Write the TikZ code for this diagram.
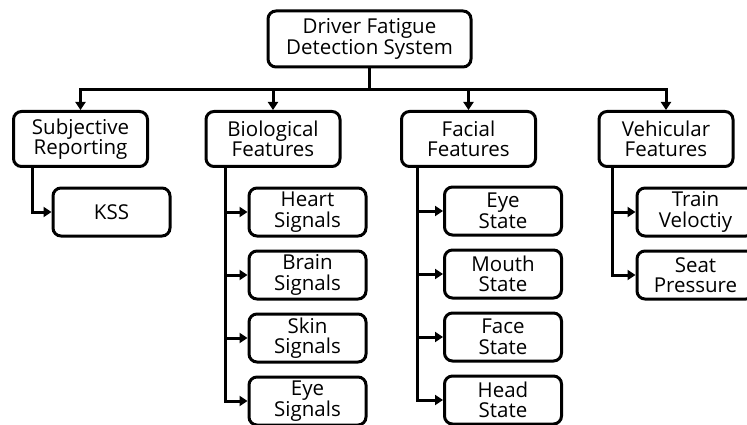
\documentclass[tikz,border=0pt]{standalone}
\usepackage{fontspec}
\setmainfont{Open Sans}
\usetikzlibrary{positioning, arrows.meta}
\tikzset{
    x=1pt, y=-1pt, % pixel coordinates, y downwards
    node distance=63pt, % vertical step between the leaf boxes
    box/.style={ % common look of all boxes
        draw,
        line width=3pt,
        rounded corners=8pt,
        align=center,
        inner sep=0pt,
        font=\fontsize{20.5}{20.5}\selectfont
    },
    rootbox/.style={box, minimum width=203pt, minimum height=56pt},
    groupbox/.style={box, minimum width=134pt, minimum height=55pt},
    leafbox/.style={box, minimum width=117pt, minimum height=48pt},
    link/.style={ % connectors with filled arrow heads
        draw,
        line width=3pt,
        -{Triangle[length=8pt,width=10pt]}
    }
}

\begin{document}
\begin{tikzpicture}
    \useasboundingbox (0,0) rectangle (747,425);

    \node[rootbox]  (root)  at (369.5,39)   {Driver Fatigue\\Detection System};

    \node[groupbox] (subj)  at (80.5,139)   {Subjective\\Reporting};
    \node[groupbox] (bio)   at (273,139)    {Biological\\Features};
    \node[groupbox] (face)  at (468.5,139)  {Facial\\Features};
    \node[groupbox] (veh)   at (666,139)    {Vehicular\\Features};

    \node[leafbox]  (kss)   at (111.5,212)  {KSS};

    \node[leafbox]  (heart) at (307.5,212)  {Heart\\Signals};
    \node[leafbox, below of=heart]  (brain) {Brain\\Signals};
    \node[leafbox, below of=brain]  (skin)  {Skin\\Signals};
    \node[leafbox, below of=skin]   (eyesig){Eye\\Signals};

    \node[leafbox]  (eyest) at (503,211)    {Eye\\State};
    \node[leafbox, below of=eyest]  (mouth) {Mouth\\State};
    \node[leafbox, below of=mouth]  (facest){Face\\State};
    \node[leafbox, below of=facest] (head)  {Head\\State};

    \node[leafbox]  (train) at (695.5,212)  {Train\\Veloctiy};
    \node[leafbox, below of=train]  (seat)  {Seat\\Pressure};

    % root to the four groups
    \foreach \g in {subj,bio,face,veh}
        \draw[link] (root.south) -- ++(0pt,-21pt) -| (\g.north);

    % groups to their leaves
    \draw[link] ([xshift=20pt]subj.south west) |- (kss.west);
    \foreach \c in {heart,brain,skin,eyesig}
        \draw[link] ([xshift=21pt]bio.south west) |- (\c.west);
    \foreach \c in {eyest,mouth,facest,head}
        \draw[link] ([xshift=17pt]face.south west) |- (\c.west);
    \foreach \c in {train,seat}
        \draw[link] ([xshift=15pt]veh.south west) |- (\c.west);
\end{tikzpicture}
\end{document}
